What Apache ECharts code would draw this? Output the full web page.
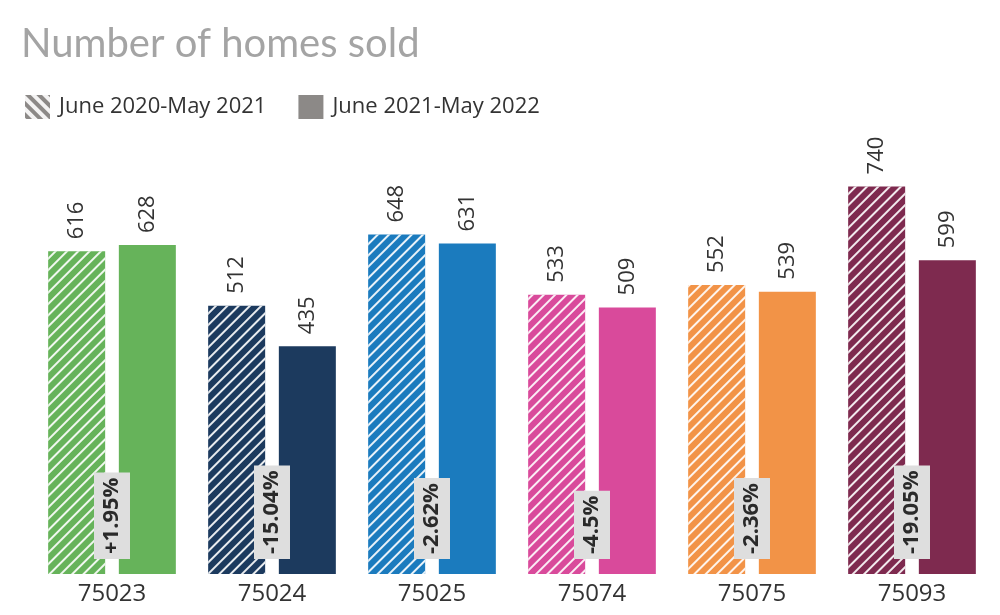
<!DOCTYPE html>
<html><head><meta charset="utf-8">
<script src="https://cdn.jsdelivr.net/npm/echarts@6/dist/echarts.min.js"></script>
<style>html,body{margin:0;padding:0;background:#fff}#c{width:1000px;height:615px}</style>
</head><body><div id="c"></div>
<script>
var categories = ['75023','75024','75025','75074','75075','75093'];
var prevYear = [616, 512, 648, 533, 552, 740];
var currYear = [628, 435, 631, 509, 539, 599];
var changeLabels = ['+1.95%','-15.04%','-2.62%','-4.5%','-2.36%','-19.05%'];
var colors = ['#66b35a','#1c3a5e','#1b7bbe','#d94a9b','#f29347','#7e2a4f'];
var seriesNames = ['June 2020-May 2021','June 2021-May 2022'];

var FONT = 'Open Sans';
var hatch = {symbol:'rect', dashArrayX:[1,0], dashArrayY:[1.8,5.2], rotation:-Math.PI/4, color:'rgba(255,255,255,0.9)', symbolSize:1};
var legendHatch = {symbol:'rect', dashArrayX:[1,0], dashArrayY:[4,4], rotation:Math.PI/4, color:'rgba(255,255,255,0.9)', symbolSize:1};

var chart = echarts.init(document.getElementById('c'));
var numLabel = {show:true, position:'top', rotate:90, align:'left', verticalAlign:'middle', distance:12, fontSize:22, color:'#333', fontFamily:FONT};
chart.setOption({
  animation:false,
  title:{text:'Number of homes sold', left:16, top:19, textStyle:{fontSize:40, fontWeight:'normal', color:'#a4a4a4', fontFamily:'Lato'}},
  legend:{left:20, top:90, itemWidth:25, itemHeight:24, itemGap:32, icon:'rect',
    textStyle:{fontSize:22, color:'#333', fontFamily:FONT, padding:[0,0,0,4]},
    data:[{name:seriesNames[0], itemStyle:{color:'#8c8987', decal:legendHatch}},{name:seriesNames[1], itemStyle:{color:'#8c8987', decal:'none'}}]},
  grid:{left:32, right:8, top:155, bottom:41},
  xAxis:{type:'category', data:categories, axisLine:{show:false}, axisTick:{show:false},
    axisLabel:{fontSize:24, color:'#333', fontFamily:FONT, margin:8}},
  yAxis:{type:'value', min:0, max:800, show:false, splitLine:{show:false}},
  series:[
    {name:seriesNames[0], type:'bar', barWidth:57, barGap:'24%',
      itemStyle:{color:'#8c8987', decal:hatch},
      data:prevYear.map(function(v,i){return {value:v, itemStyle:{color:colors[i], decal:hatch}};}),
      label:numLabel},
    {name:seriesNames[1], type:'bar', barWidth:57,
      itemStyle:{color:'#8c8987'},
      data:currYear.map(function(v,i){return {value:v, itemStyle:{color:colors[i]}};}),
      label:numLabel},
    {name:'change', type:'custom', silent:true, z:20,
      data:changeLabels.map(function(t,i){return [i, 0];}),
      renderItem:function(params, api){
        var p = api.coord([api.value(0), 0]);
        var t = changeLabels[params.dataIndex];
        return {type:'text', x:p[0], y:p[1]-15, rotation:Math.PI/2, z2:100,
          style:{text:t, fontSize:22, fontWeight:'bold', fill:'#2a2a2a', fontFamily:FONT,
            align:'left', verticalAlign:'middle', backgroundColor:'#dedede', padding:[6,5,6,5], lineHeight:24}};
      }}
  ]
});
</script></body></html>
